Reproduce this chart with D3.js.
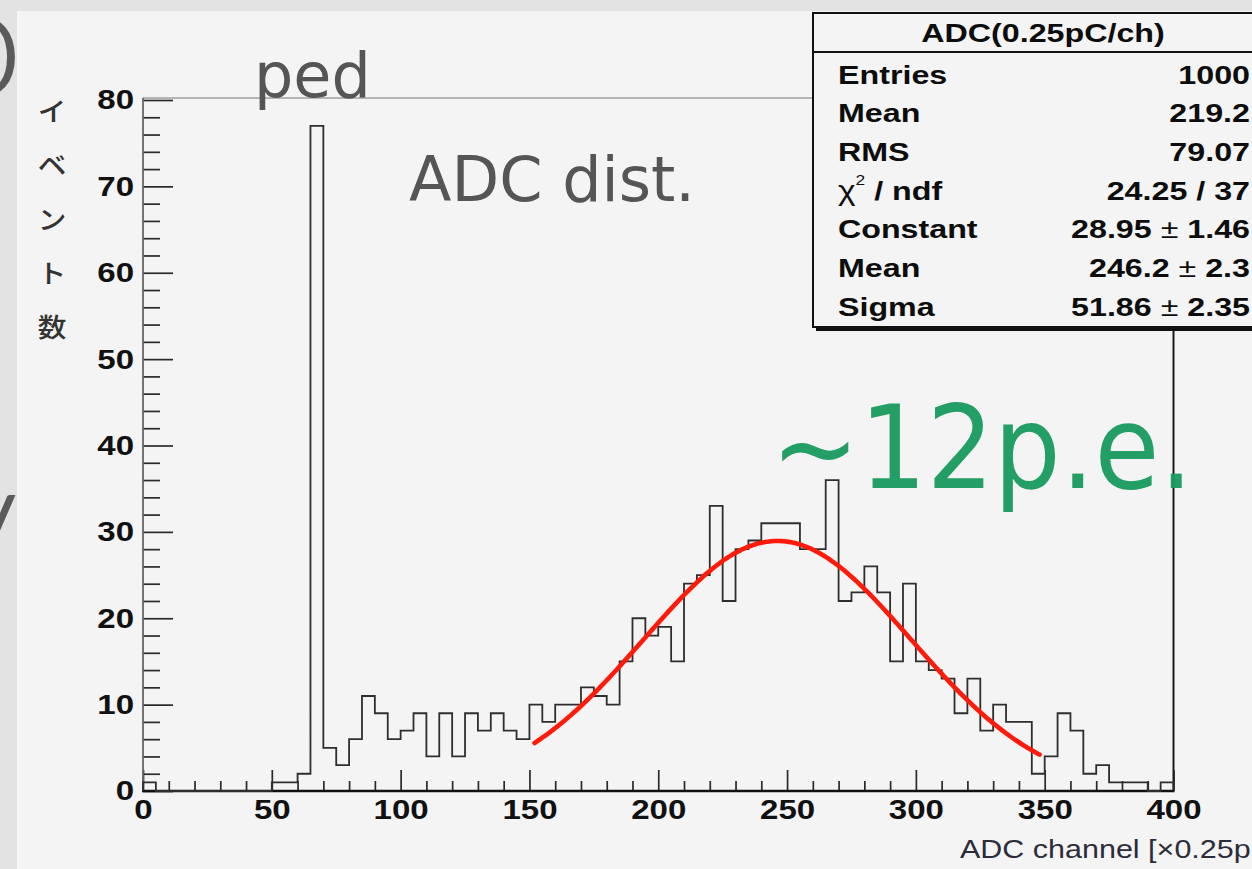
<!DOCTYPE html>
<html>
<head>
<meta charset="utf-8">
<script src="https://cdn.jsdelivr.net/npm/d3@7"></script>
<style>
  html, body { margin: 0; padding: 0; background: #e4e4e4; overflow: hidden; }
  svg { display: block; }
</style>
</head>
<body>
<svg id="chart" width="1252" height="869"></svg>
<script>
// ---- ADC spectrum: 80 bins, 5 channels wide, covering 0–400 ----
const binWidth = 5;
const binCounts = [
  1, 0, 0, 0, 0, 0, 0, 0, 0, 0,
  1, 1, 2, 77, 5, 3, 6, 11, 9, 6,
  7, 9, 4, 9, 4, 9, 7, 9, 7, 6,
  10, 8, 10, 10, 12, 11, 10, 15, 20, 18,
  19, 15, 24, 25, 33, 22, 28, 29, 31, 31,
  31, 28, 28, 36, 22, 23, 26, 23, 15, 24,
  15, 14, 13, 9, 13, 7, 10, 8, 8, 2,
  4, 9, 7, 2, 3, 1, 1, 1, 0, 1
];

// Gaussian fit result (same numbers as the stats box)
const fitConstant = 28.95;
const fitMean = 246.2;
const fitSigma = 51.86;
const fitRange = [152, 348];

// Axes
const xDomain = [0, 400];
const yDomain = [0, 80];
const xMajorTicks = [0, 50, 100, 150, 200, 250, 300, 350, 400];
const yMajorTicks = [0, 10, 20, 30, 40, 50, 60, 70, 80];
const xTitle = "ADC channel [×0.25pC]";
const yTitleChars = ["イ", "ベ", "ン", "ト", "数"];

// Stats box
const statsTitle = "ADC(0.25pC/ch)";
const statsLabels = ["Entries", "Mean", "RMS", "chi2", "Constant", "Mean", "Sigma"];
const statsValues = ["1000", "219.2", "79.07", "24.25 / 37", "28.95 ± 1.46", "246.2 ± 2.3", "51.86 ± 2.35"];

// Slide annotations
const pedLabel = "ped";
const distLabel = "ADC dist.";
const peLabel = "~12p.e.";

// ---------------------------------------------------------------
const svg = d3.select("#chart");
const W = 1252, H = 869;
const ROOT_FONT = "'Liberation Sans', Arial, Helvetica, sans-serif";
const SLIDE_FONT = "'DejaVu Sans', 'Liberation Sans', sans-serif";

const x = d3.scaleLinear().domain(xDomain).range([143, 1173.5]);
const y = d3.scaleLinear().domain(yDomain).range([791, 100]);

// slide background and the edges of large slide lettering behind the plot
svg.append("rect").attr("width", W).attr("height", H).attr("fill", "#e3e3e3");
const frag = svg.append("g").attr("fill", "#5a5a5a")
  .attr("font-family", "Lato, 'Open Sans', sans-serif").attr("font-weight", 300)
  .attr("font-size", 160);
frag.append("text").attr("x", -66).attr("y", 97).text("o");
frag.append("text").attr("x", -62).attr("y", 575).text("y");

// the plot image area
svg.append("rect").attr("x", 18).attr("y", 11).attr("width", W - 18).attr("height", H - 11)
  .attr("fill", "#f4f4f4");
svg.append("line").attr("x1", 18).attr("x2", 18).attr("y1", 11).attr("y2", H)
  .attr("stroke", "#fbfbfb").attr("stroke-width", 1.5);

const plot = svg.append("g");

// ---- Y axis (ticks pointing into the frame) ----
const ySx = 1.18;
const yAxis = d3.axisLeft(y).tickValues(yMajorTicks).tickSizeInner(-30).tickSizeOuter(0)
  .tickPadding(9).tickFormat(d3.format("d"));
const gy = plot.append("g").attr("transform", `translate(${x(0)},0)`).call(yAxis);
gy.select(".domain").remove();
gy.attr("color", "#2a2a2a");
gy.selectAll("line").attr("stroke-width", 1.7);
gy.selectAll("text")
  .attr("font-family", ROOT_FONT).attr("font-weight", "bold").attr("font-size", 28)
  .attr("fill", "#111")
  .attr("x", -9 / ySx)
  .attr("transform", `scale(${ySx},1)`);

const yMinor = d3.range(0, 81, 2).filter(v => v % 10 !== 0);
const gyMinor = plot.append("g").attr("transform", `translate(${x(0)},0)`)
  .call(d3.axisLeft(y).tickValues(yMinor).tickSize(-17).tickFormat(""));
gyMinor.select(".domain").remove();
gyMinor.attr("color", "#2a2a2a");
gyMinor.selectAll("line").attr("stroke-width", 1.7);

// ---- X axis (ticks pointing up) ----
const xSx = 1.18;
const xAxis = d3.axisBottom(x).tickValues(xMajorTicks).tickSizeInner(-21).tickSizeOuter(0)
  .tickPadding(8).tickFormat(d3.format("d"));
const gx = plot.append("g").attr("transform", `translate(0,${y(0)})`).call(xAxis);
gx.select(".domain").remove();
gx.attr("color", "#2a2a2a");
gx.selectAll("line").attr("stroke-width", 1.7);
gx.selectAll("text")
  .attr("font-family", ROOT_FONT).attr("font-weight", "bold").attr("font-size", 28)
  .attr("fill", "#111")
  .attr("transform", `scale(${xSx},1)`);

const xMinor = d3.range(0, 401, 10).filter(v => v % 50 !== 0);
const gxMinor = plot.append("g").attr("transform", `translate(0,${y(0)})`)
  .call(d3.axisBottom(x).tickValues(xMinor).tickSize(-10).tickFormat(""));
gxMinor.select(".domain").remove();
gxMinor.attr("color", "#2a2a2a");
gxMinor.selectAll("line").attr("stroke-width", 1.7);

// ---- frame ----
const frameTop = 98;
plot.append("line").attr("x1", x(0)).attr("x2", x(400)).attr("y1", frameTop).attr("y2", frameTop)
  .attr("stroke", "#a0a0a0").attr("stroke-width", 1.5);
plot.append("line").attr("x1", x(0)).attr("x2", x(0)).attr("y1", frameTop).attr("y2", y(0))
  .attr("stroke", "#666").attr("stroke-width", 1.8);
plot.append("line").attr("x1", x(400)).attr("x2", x(400)).attr("y1", frameTop).attr("y2", y(0))
  .attr("stroke", "#1a1a1a").attr("stroke-width", 2);
plot.append("line").attr("x1", x(0) - 1).attr("x2", x(400) + 1).attr("y1", y(0)).attr("y2", y(0))
  .attr("stroke", "#111").attr("stroke-width", 2.6);

// ---- histogram outline ----
const histPts = [[xDomain[0], 0]]
  .concat(binCounts.map((c, i) => [i * binWidth, c]))
  .concat([[binCounts.length * binWidth, binCounts[binCounts.length - 1]], [binCounts.length * binWidth, 0]]);
const stepLine = d3.line().x(d => x(d[0])).y(d => y(d[1])).curve(d3.curveStepAfter);
plot.append("path").datum(histPts)
  .attr("d", stepLine)
  .attr("fill", "none").attr("stroke", "#2e2e2e").attr("stroke-width", 1.8)
  .attr("stroke-linejoin", "miter");

// ---- Gaussian fit ----
const gauss = v => fitConstant * Math.exp(-0.5 * Math.pow((v - fitMean) / fitSigma, 2));
const fitPts = d3.range(fitRange[0], fitRange[1] + 0.001, 1).map(v => [v, gauss(v)]);
plot.append("path").datum(fitPts)
  .attr("d", d3.line().x(d => x(d[0])).y(d => y(d[1])).curve(d3.curveMonotoneX))
  .attr("fill", "none").attr("stroke", "#ff1a0a").attr("stroke-width", 4.6)
  .attr("stroke-linecap", "round").attr("stroke-linejoin", "round");

// ---- stats box ----
const box = { x0: 813, y0: 13, x1: 1275, y1: 327, sep: 52 };
svg.append("rect").attr("x", box.x0 + 3).attr("y", box.y1).attr("width", box.x1 - box.x0).attr("height", 4)
  .attr("fill", "#111");
svg.append("rect").attr("x", box.x0).attr("y", box.y0).attr("width", box.x1 - box.x0).attr("height", box.y1 - box.y0)
  .attr("fill", "#f4f4f4").attr("stroke", "#111").attr("stroke-width", 2);
svg.append("line").attr("x1", box.x0).attr("x2", box.x1).attr("y1", box.sep).attr("y2", box.sep)
  .attr("stroke", "#111").attr("stroke-width", 2);

const sSx = 1.24;
const statsG = svg.append("g").attr("font-family", ROOT_FONT).attr("font-weight", "bold")
  .attr("font-size", 26).attr("fill", "#0d0d0d");
statsG.append("text").attr("text-anchor", "middle")
  .attr("transform", `translate(1043,42) scale(${sSx},1)`).text(statsTitle);

const rowY = i => 83.5 + i * 38.7;
statsLabels.forEach((lab, i) => {
  const t = statsG.append("text").attr("transform", `translate(838,${rowY(i)}) scale(${sSx},1)`);
  if (lab === "chi2") {
    t.append("tspan").attr("font-weight", "normal").attr("font-size", 27).text("χ");
    t.append("tspan").attr("font-weight", "normal").attr("font-size", 14).attr("dy", -15).text("2");
    t.append("tspan").attr("dy", 15).text(" / ndf");
  } else {
    t.text(lab);
  }
});
statsValues.forEach((val, i) => {
  const t = statsG.append("text").attr("text-anchor", "end")
    .attr("transform", `translate(1250,${rowY(i)}) scale(${sSx},1)`);
  const parts = val.split("±");
  if (parts.length === 2) {
    t.append("tspan").text(parts[0]);
    t.append("tspan").attr("font-weight", "normal").text("±");
    t.append("tspan").text(parts[1]);
  } else {
    t.text(val);
  }
});

// ---- axis titles ----
svg.append("text").attr("font-family", ROOT_FONT).attr("font-size", 25).attr("fill", "#2c2c3a")
  .attr("transform", `translate(960,858) scale(1.22,1)`).text(xTitle);

const yTitle = svg.append("g").attr("font-family", "'Noto Sans CJK JP', sans-serif")
  .attr("font-size", 26).attr("font-weight", 500).attr("fill", "#333").attr("text-anchor", "middle");
yTitleChars.forEach((ch, i) => {
  yTitle.append("text").attr("dominant-baseline", "central")
    .attr("transform", `translate(52,${110 + i * 53.8}) scale(1.1,1)`).text(ch);
});

// ---- slide annotations ----
svg.append("text").attr("x", 254).attr("y", 97).attr("font-family", SLIDE_FONT)
  .attr("font-size", 62).attr("fill", "#555").text(pedLabel);
svg.append("text").attr("x", 409).attr("y", 201).attr("font-family", SLIDE_FONT)
  .attr("font-size", 62).attr("fill", "#555").text(distLabel);
svg.append("text").attr("x", 771).attr("y", 488).attr("font-family", SLIDE_FONT)
  .attr("font-size", 116).attr("fill", "#1a9a5f").attr("fill-opacity", 0.96)
  .attr("textLength", 422).attr("lengthAdjust", "spacingAndGlyphs").text(peLabel);
</script>
</body>
</html>
